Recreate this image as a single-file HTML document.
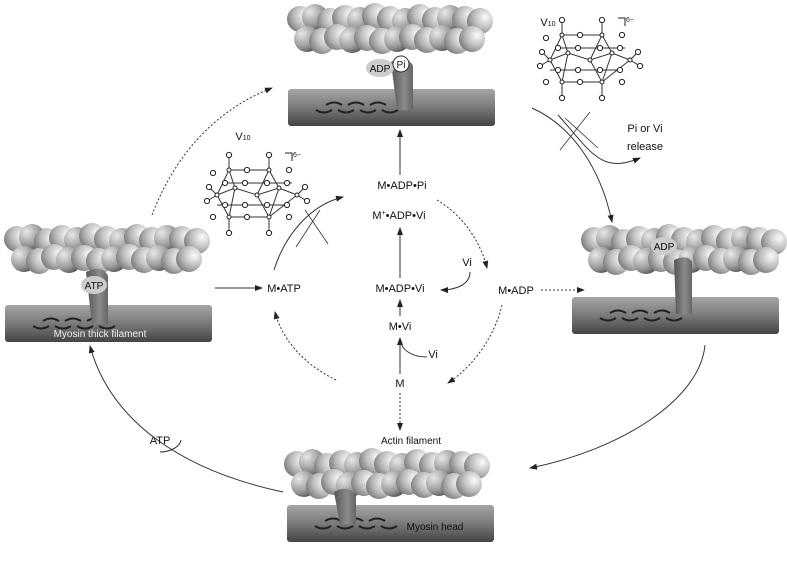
<!DOCTYPE html>
<html><head><meta charset="utf-8"><style>
body{margin:0;background:#fff}
svg{display:block;font-family:"Liberation Sans",sans-serif}
</style></head><body>
<svg width="787" height="568" viewBox="0 0 787 568" xmlns="http://www.w3.org/2000/svg">
<defs>
<radialGradient id="b1" cx="0.7" cy="0.35" r="0.85">
<stop offset="0" stop-color="#fbfbfb"/><stop offset="0.5" stop-color="#bdbdbd"/><stop offset="1" stop-color="#666"/>
</radialGradient>
<radialGradient id="b2" cx="0.3" cy="0.3" r="0.85">
<stop offset="0" stop-color="#e8e8e8"/><stop offset="0.6" stop-color="#999"/><stop offset="1" stop-color="#444"/>
</radialGradient>
<linearGradient id="rg" x1="0" y1="0" x2="0" y2="1">
<stop offset="0" stop-color="#a5a5a5"/><stop offset="0.5" stop-color="#7a7a7a"/><stop offset="1" stop-color="#444"/>
</linearGradient>
<linearGradient id="hg" x1="0" y1="0" x2="1" y2="0">
<stop offset="0" stop-color="#555"/><stop offset="0.6" stop-color="#8a8a8a"/><stop offset="1" stop-color="#666"/>
</linearGradient>
<marker id="a" markerWidth="8" markerHeight="8" refX="7" refY="4" orient="auto" markerUnits="userSpaceOnUse">
<path d="M0,1 L8,4 L0,7 z" fill="#222"/></marker>
<g id="actin">
<circle cx="12" cy="14" r="13" fill="url(#b1)"/><circle cx="27" cy="12" r="13" fill="url(#b2)"/><circle cx="42" cy="16" r="13" fill="url(#b1)"/><circle cx="57" cy="13" r="13" fill="url(#b1)"/><circle cx="72" cy="15" r="13" fill="url(#b2)"/><circle cx="87" cy="11" r="13" fill="url(#b1)"/><circle cx="102" cy="14" r="13" fill="url(#b1)"/><circle cx="117" cy="16" r="13" fill="url(#b2)"/><circle cx="132" cy="12" r="13" fill="url(#b1)"/><circle cx="147" cy="15" r="13" fill="url(#b1)"/><circle cx="162" cy="13" r="13" fill="url(#b2)"/><circle cx="177" cy="14" r="13" fill="url(#b1)"/><circle cx="192" cy="16" r="13" fill="url(#b1)"/>
<circle cx="19" cy="34" r="13" fill="url(#b2)"/><circle cx="34" cy="36" r="13" fill="url(#b1)"/><circle cx="49" cy="32" r="13" fill="url(#b1)"/><circle cx="64" cy="35" r="13" fill="url(#b2)"/><circle cx="79" cy="33" r="13" fill="url(#b1)"/><circle cx="94" cy="36" r="13" fill="url(#b1)"/><circle cx="109" cy="34" r="13" fill="url(#b2)"/><circle cx="124" cy="32" r="13" fill="url(#b1)"/><circle cx="139" cy="35" r="13" fill="url(#b1)"/><circle cx="154" cy="33" r="13" fill="url(#b2)"/><circle cx="169" cy="36" r="13" fill="url(#b1)"/><circle cx="184" cy="34" r="13" fill="url(#b1)"/>
</g>
<g id="rod">
<rect x="0" y="0" width="207" height="37" rx="3" fill="url(#rg)"/>
<g fill="none" stroke="#222" stroke-width="2">
<path d="M38,16 q8,-5 16,0 M60,16 q8,-5 16,0 M82,16 q8,-5 16,0"/>
<path d="M28,21 q8,5 16,0 M50,21 q8,5 16,0 M72,21 q8,5 16,0 M94,21 q8,5 16,0"/>
</g>
</g>
<g id="clu" stroke="#333" stroke-width="1" fill="none">
<path d="M-40,0 L-22,-7 L0,0 L22,-7 L40,0 M-40,0 L-28,22 L12,22 L40,0 M-22,-7 L-28,22 M0,0 L12,22 M22,-7 L12,22 M-28,-25 L-22,-7 M-28,-25 L-40,0 M12,-25 L0,0 M12,-25 L22,-7 M-28,-25 L12,-25 M-28,-38 V-25 M12,-38 V-25 M-28,22 V36 M12,22 V36 M-48,-8 L-40,0 L-50,6 M48,-8 L40,0 L50,6 M-40,10 H30 M-35,-12 H35"/>
<g fill="#fff" stroke="#222">
<circle cx="-28" cy="-40" r="2.6"/><circle cx="12" cy="-40" r="2.6"/><circle cx="-28" cy="38" r="2.6"/><circle cx="12" cy="38" r="2.6"/><circle cx="-48" cy="-8" r="2.6"/><circle cx="-50" cy="6" r="2.6"/><circle cx="48" cy="-8" r="2.6"/><circle cx="50" cy="6" r="2.6"/><circle cx="-10" cy="-25" r="2.6"/><circle cx="32" cy="-25" r="2.6"/><circle cx="-10" cy="22" r="2.6"/><circle cx="32" cy="22" r="2.6"/><circle cx="-32" cy="-12" r="2.6"/><circle cx="-12" cy="-12" r="2.6"/><circle cx="10" cy="-12" r="2.6"/><circle cx="30" cy="-12" r="2.6"/><circle cx="-32" cy="10" r="2.6"/><circle cx="-12" cy="10" r="2.6"/><circle cx="10" cy="10" r="2.6"/><circle cx="30" cy="10" r="2.6"/><circle cx="-44" cy="22" r="2.6"/><circle cx="-44" cy="-22" r="2.6"/><circle cx="-40" cy="0" r="2"/><circle cx="-22" cy="-7" r="2"/><circle cx="0" cy="0" r="2"/><circle cx="22" cy="-7" r="2"/><circle cx="40" cy="0" r="2"/><circle cx="-28" cy="22" r="2"/><circle cx="12" cy="22" r="2"/><circle cx="-28" cy="-25" r="2"/><circle cx="12" cy="-25" r="2"/>
</g>
<path d="M28,-42 h7 v8" stroke="#222"/>
</g>
</defs>

<use href="#actin" x="288" y="5"/>
<use href="#rod" x="288" y="89"/>
<path d="M391,62 q16,-8 22,4 v44 h-16 z" fill="url(#hg)"/>
<use href="#actin" x="5" y="225"/>
<use href="#rod" x="5" y="305"/>
<path d="M86,272 q16,-8 22,4 v48 h-16 z" fill="url(#hg)"/>
<use href="#actin" x="582" y="226"/>
<use href="#rod" x="572" y="297"/>
<path d="M674,260 q14,-6 18,2 v52 h-16 z" fill="url(#hg)"/>
<use href="#actin" x="285" y="450"/>
<use href="#rod" x="287" y="505"/>
<path d="M334,492 q16,-8 22,4 v28 h-16 z" fill="url(#hg)"/>

<g font-size="10" text-anchor="middle" fill="#111">
<ellipse cx="380" cy="68" rx="14" ry="9" fill="#ccc"/><text x="380" y="72">ADP</text>
<circle cx="401" cy="64" r="8" fill="#fff" stroke="#333"/><text x="401" y="68">Pi</text>
<ellipse cx="94" cy="285" rx="13" ry="9" fill="#ccc"/><text x="94" y="289">ATP</text>
<ellipse cx="664" cy="246" rx="13" ry="9" fill="#ccc"/><text x="664" y="250">ADP</text>
<text x="100" y="337" fill="#eee">Myosin thick filament</text>
</g>

<use href="#clu" x="590" y="60"/>
<use href="#clu" x="257" y="195"/>
<g font-size="7" fill="#222"><text x="626" y="22">6−</text><text x="293" y="157">6−</text></g>

<g fill="none" stroke="#333" stroke-width="1">
<path d="M400,374 V338" marker-end="url(#a)"/>
<path d="M400,316 V300" marker-end="url(#a)"/>
<path d="M400,278 V228" marker-end="url(#a)"/>
<path d="M400,175 V130" marker-end="url(#a)"/>
<path d="M400,393 V430" stroke-dasharray="2,2" marker-end="url(#a)"/>
<path d="M215,288 H262" marker-end="url(#a)"/>
<path d="M274,270 C285,235 310,205 343,197" marker-end="url(#a)"/>
<path d="M296,247 L320,210 M305,210 L328,244" stroke-width="0.8"/>
<path d="M470,272 C470,285 455,290 441,290" marker-end="url(#a)"/>
<path d="M427,357 C412,357 402,350 401,342"/>
<path d="M437,200 C462,215 480,240 487,268" stroke-dasharray="2,2" marker-end="url(#a)"/>
<path d="M502,305 C495,335 475,365 448,383" stroke-dasharray="2,2" marker-end="url(#a)"/>
<path d="M336,380 C305,365 282,340 275,312" stroke-dasharray="2,2" marker-end="url(#a)"/>
<path d="M152,215 C175,155 215,110 272,88" stroke-dasharray="2,2" marker-end="url(#a)"/>
<path d="M541,290 H584" stroke-dasharray="2,2" marker-end="url(#a)"/>
<path d="M532,108 C570,125 600,165 612,222" marker-end="url(#a)"/>
<path d="M558,115 C590,150 600,175 640,158" marker-end="url(#a)"/>
<path d="M560,150 L590,112 M598,148 L565,118" stroke-width="0.8"/>
<path d="M705,345 C700,400 620,450 530,468" marker-end="url(#a)"/>
<path d="M283,492 C180,470 110,420 90,346" marker-end="url(#a)"/>
<path d="M160,452 C170,452 180,447 181,440"/>
</g>
<g font-size="11" fill="#111" text-anchor="middle">
<text x="402" y="189">M•ADP•Pi</text>
<text x="399" y="219">M<tspan font-size="7" dy="-4">+</tspan><tspan dy="4">•ADP•Vi</tspan></text>
<text x="400" y="292">M•ADP•Vi</text>
<text x="400" y="330">M•Vi</text>
<text x="400" y="387">M</text>
<text x="284" y="292">M•ATP</text>
<text x="516" y="294">M•ADP</text>
<text x="467" y="266">Vi</text>
<text x="433" y="358">Vi</text>
<text x="645" y="132">Pi or Vi</text>
<text x="645" y="150">release</text>
<text x="160" y="444">ATP</text>
<text x="548" y="26">V<tspan font-size="7">10</tspan></text>
<text x="243" y="140">V<tspan font-size="7">10</tspan></text>
<text x="411" y="444" font-size="10">Actin filament</text>
<text x="435" y="530" font-size="10">Myosin head</text>
</g>
</svg>
</body></html>
